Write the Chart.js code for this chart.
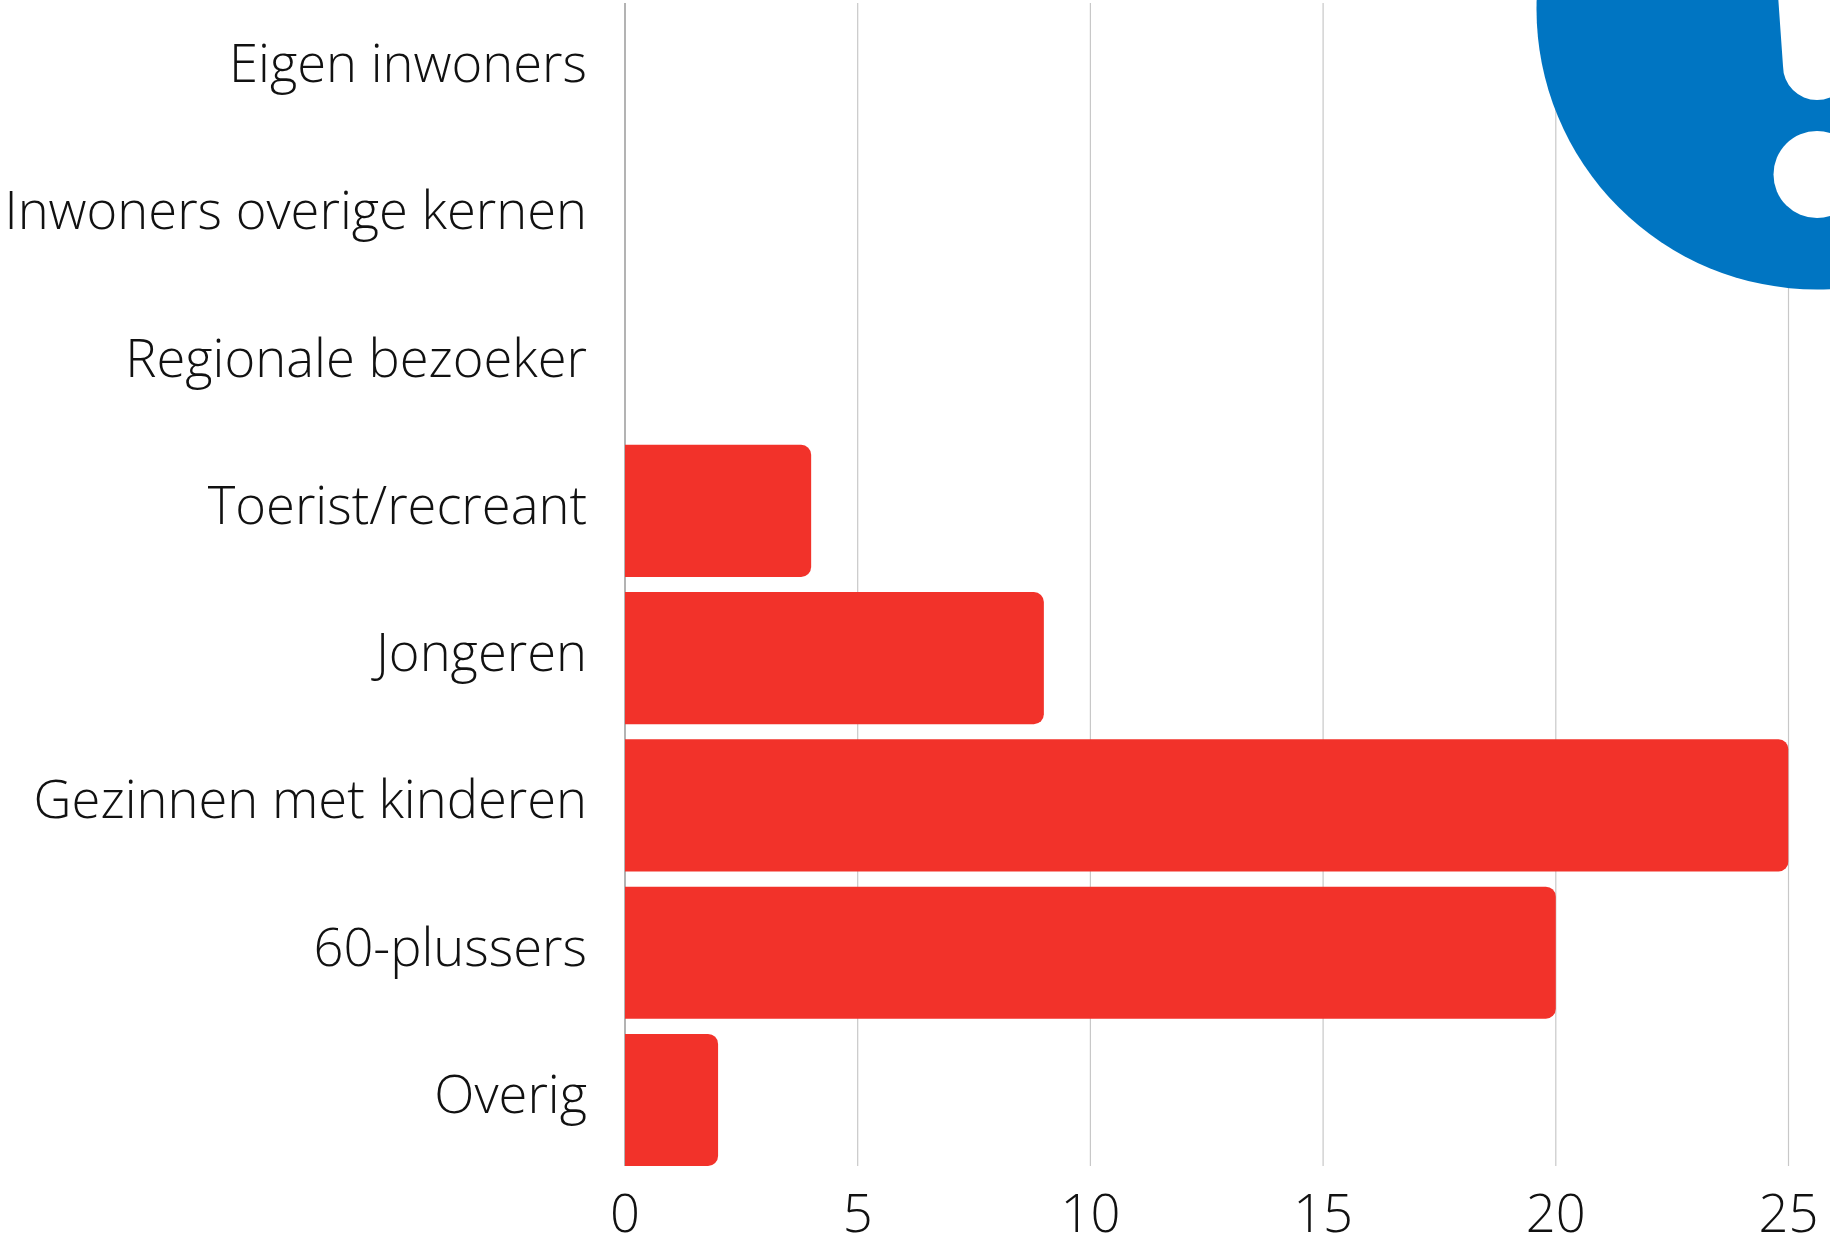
<!DOCTYPE html>
<html>
<head>
<meta charset="utf-8">
<script src="https://cdn.jsdelivr.net/npm/chart.js@4"></script>
<style>
    html, body { margin: 0; padding: 0; background: #fff; overflow: hidden; }
    /* the top band starts above the window, so the chart hangs 5px over the edge */
    #wrap { width: 1830px; height: 1250px; position: absolute; left: 0; top: -5px; }
</style>
</head>
<body>
<div id="wrap"><canvas id="chart"></canvas></div>
<script>
const categories = ['Eigen inwoners', 'Inwoners overige kernen', 'Regionale bezoeker', 'Toerist/recreant', 'Jongeren', 'Gezinnen met kinderen', '60-plussers', 'Overig'];
const values = [0, 0, 0, 4, 9, 25, 20, 2];
const xTicks = [0, 5, 10, 15, 20, 25];

// gridlines stop short of the outer bands, so they are drawn here from the x scale
const gridPlugin = {
    id: 'shortGrid',
    beforeDatasetsDraw(chart) {
        const ctx = chart.ctx;
        const x = chart.scales.x;
        ctx.save();
        ctx.lineWidth = 1.2;
        xTicks.forEach(t => {
            const px = x.getPixelForValue(t);
            ctx.strokeStyle = t === 0 ? '#808080' : '#c8c8c8';
            ctx.beginPath();
            ctx.moveTo(px, 8);
            ctx.lineTo(px, 1171);
            ctx.stroke();
        });
        ctx.restore();
    }
};

// blue logo in the top right corner
const logoPlugin = {
    id: 'logo',
    afterDraw(chart) {
        const ctx = chart.ctx;
        ctx.save();
        ctx.fillStyle = '#0075c2';
        ctx.beginPath();
        ctx.arc(1817, 14, 280.5, 0, Math.PI * 2);
        ctx.fill();
        ctx.fillStyle = '#ffffff';
        ctx.beginPath();
        ctx.arc(1817, 179.5, 43.5, 0, Math.PI * 2);
        ctx.fill();
        ctx.beginPath();
        ctx.moveTo(1778, 0);
        ctx.lineTo(1783, 71);
        ctx.arc(1817, 71, 34, Math.PI, 0, true);
        ctx.lineTo(1851, 0);
        ctx.closePath();
        ctx.fill();
        ctx.restore();
    }
};

new Chart(document.getElementById('chart'), {
    type: 'bar',
    data: {
        labels: categories,
        datasets: [{
            data: values,
            backgroundColor: '#f2322a',
            borderWidth: 0,
            borderSkipped: false,
            borderRadius: { topLeft: 0, bottomLeft: 0, topRight: 10, bottomRight: 10 },
            categoryPercentage: 1,
            barPercentage: 0.897
        }]
    },
    options: {
        indexAxis: 'y',
        responsive: true,
        maintainAspectRatio: false,
        animation: false,
        layout: { padding: { top: 0.4, right: 41.5, bottom: 0, left: 0 } },
        plugins: { legend: { display: false }, tooltip: { enabled: false } },
        scales: {
            x: {
                min: 0,
                max: 25,
                afterBuildTicks: s => { s.ticks = xTicks.map(v => ({ value: v })); },
                afterFit: s => { s.height = 71.4; },
                grid: { display: false },
                border: { display: false },
                ticks: {
                    color: '#111',
                    padding: 4,
                    maxRotation: 0,
                    font: { family: '"Open Sans"', size: 52.5, weight: '300' }
                }
            },
            y: {
                // no auto padding for the outer labels, the bands have to fill the height
                afterFit: s => { s.width = 625; s.paddingTop = 0; s.paddingBottom = 0; },
                grid: { display: false },
                border: { display: false },
                ticks: {
                    color: '#111',
                    padding: 30,
                    labelOffset: -2,
                    autoSkip: false,
                    font: { family: '"Open Sans"', size: 52.5, weight: '300' }
                }
            }
        }
    },
    plugins: [gridPlugin, logoPlugin]
});
</script>
</body>
</html>
